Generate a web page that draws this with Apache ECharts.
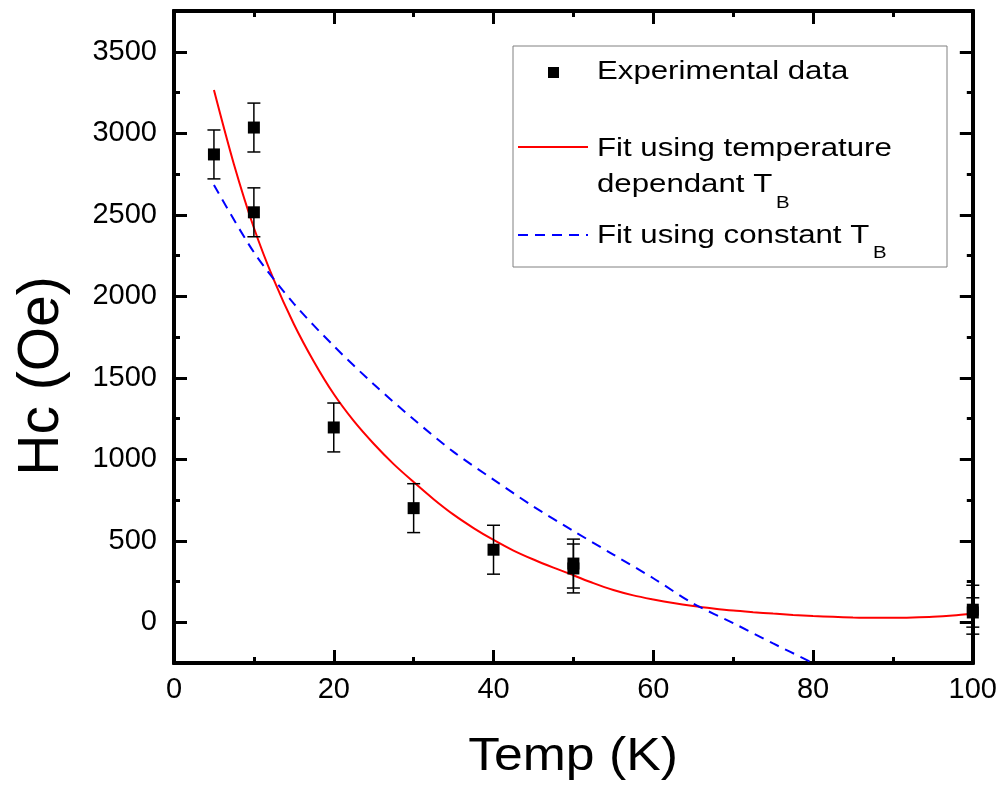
<!DOCTYPE html>
<html>
<head>
<meta charset="utf-8">
<script src="https://cdn.jsdelivr.net/npm/echarts@6/dist/echarts.min.js"></script>
<style>
html,body{margin:0;padding:0;background:#fff;}
#c{width:1000px;height:789px;}
</style>
</head>
<body>
<div id="c"></div>
<script>
// ---- data ----
const expX   = [5, 10, 10, 20, 30, 40, 50, 50, 100, 100];
const expY   = [2870, 3035, 2515, 1195, 700, 445, 360, 330, 77, 60];
const expErr = [150, 150, 150, 150, 150, 150, 150, 150, 150, 90];

const redX = [5, 7.5, 10, 12.5, 15, 17.5, 20, 22.5, 25, 27.5, 30, 32.5, 35, 37.5, 40, 42.5, 45, 47.5, 50,
              52.5, 55, 57.5, 60, 62.5, 65, 67.5, 70, 72.5, 75, 77.5, 80, 82.5, 85, 87.5, 90, 92.5, 95, 97.5, 100];
const redY = [3265, 2810, 2420, 2100, 1830, 1600, 1400, 1235, 1095, 970, 860, 755, 660, 578, 505, 440, 385, 335, 288,
              240, 198, 165, 140, 118, 100, 85, 72, 62, 53, 45, 38, 33, 29, 27, 27, 29, 33, 41, 53];

const blueX = [5, 10, 15, 20, 25, 30, 35, 40, 45, 50, 55, 60, 65, 70, 75, 80];
const blueY = [2683, 2270, 1955, 1695, 1460, 1245, 1045, 875, 710, 560, 415, 270, 115, -5, -130, -250];

const xMajor = [0, 20, 40, 60, 80, 100];
const xMinor = [10, 30, 50, 70, 90];
const yMajor = [0, 500, 1000, 1500, 2000, 2500, 3000, 3500];
const yMinor = [250, 750, 1250, 1750, 2250, 2750, 3250];

// ---- build ----
const FONT = '"Liberation Sans", Arial, sans-serif';
const chart = echarts.init(document.getElementById('c'), null, {renderer: 'canvas'});

function axis(kind, pos, major, ticks, showLabel, len) {
  return {
    type: 'value', position: pos,
    min: kind === 'x' ? 0 : -250, max: kind === 'x' ? 100 : 3750,
    splitLine: {show: false},
    axisLine: {show: true, onZero: false, lineStyle: {color: '#000', width: 4}},
    axisTick: {show: true, inside: true, length: len, customValues: ticks,
               lineStyle: {color: '#000', width: 3}},
    axisLabel: {show: showLabel, customValues: major, color: '#000',
                formatter: v => String(v),
                fontFamily: FONT, fontSize: 29, margin: kind === 'x' ? 12 : 17}
  };
}

const xAxes = [
  axis('x', 'bottom', xMajor, xMajor, true, 13),
  axis('x', 'bottom', xMajor, xMinor, false, 6),
  axis('x', 'top', xMajor, xMajor, false, 13),
  axis('x', 'top', xMajor, xMinor, false, 6)
];
const yAxes = [
  axis('y', 'left', yMajor, yMajor, true, 13),
  axis('y', 'left', yMajor, yMinor, false, 6),
  axis('y', 'right', yMajor, yMajor, false, 13),
  axis('y', 'right', yMajor, yMinor, false, 6)
];

const expData = expX.map((x, i) => [x, expY[i], expErr[i]]);
const redData = redX.map((x, i) => [x, redY[i]]);
const blueData = blueX.map((x, i) => [x, blueY[i]]);

function renderErr(params, api) {
  const x = api.value(0), y = api.value(1), e = api.value(2);
  const p = api.coord([x, y]);
  const hi = api.coord([x, y + e]);
  const lo = api.coord([x, y - e]);
  const cw = 6.5, ms = 6;
  return {
    type: 'group',
    children: [
      {type: 'line', shape: {x1: p[0], y1: hi[1], x2: p[0], y2: lo[1]}, style: {stroke: '#000', lineWidth: 1.5}},
      {type: 'line', shape: {x1: p[0] - cw, y1: hi[1], x2: p[0] + cw, y2: hi[1]}, style: {stroke: '#000', lineWidth: 1.5}},
      {type: 'line', shape: {x1: p[0] - cw, y1: lo[1], x2: p[0] + cw, y2: lo[1]}, style: {stroke: '#000', lineWidth: 1.5}},
      {type: 'rect', shape: {x: p[0] - ms, y: p[1] - ms, width: 2 * ms, height: 2 * ms}, style: {fill: '#000'}}
    ]
  };
}

// legend drawn as graphic elements
const LX = 513, LY = 46;
const legendGraphics = [
  {type: 'rect', shape: {x: LX, y: LY, width: 434, height: 221}, style: {fill: '#fff', stroke: '#808080', lineWidth: 1}, z: 10},
  {type: 'rect', shape: {x: 548, y: 67, width: 11, height: 11}, style: {fill: '#000'}, z: 11},
  {type: 'text', x: 597, y: 72, scaleX: 1.2, style: {text: 'Experimental data', font: '26px ' + FONT, fill: '#000', verticalAlign: 'middle'}, z: 11},
  {type: 'line', shape: {x1: 518, y1: 147, x2: 588, y2: 147}, style: {stroke: '#ff0000', lineWidth: 2}, z: 11},
  {type: 'text', x: 597, y: 149, scaleX: 1.2, style: {text: 'Fit using temperature', font: '26px ' + FONT, fill: '#000', verticalAlign: 'middle'}, z: 11},
  {type: 'text', x: 597, y: 185, scaleX: 1.2, style: {text: 'dependant T', font: '26px ' + FONT, fill: '#000', verticalAlign: 'middle'}, z: 11},
  {type: 'text', x: 776, y: 203, scaleX: 1.2, style: {text: 'B', font: '17px ' + FONT, fill: '#000', verticalAlign: 'middle'}, z: 11},
  {type: 'line', shape: {x1: 518, y1: 235, x2: 588, y2: 235}, style: {stroke: '#0000ff', lineWidth: 2, lineDash: [10, 7]}, z: 11},
  {type: 'text', x: 597, y: 236, scaleX: 1.2, style: {text: 'Fit using constant T', font: '26px ' + FONT, fill: '#000', verticalAlign: 'middle'}, z: 11},
  {type: 'text', x: 873, y: 253, scaleX: 1.2, style: {text: 'B', font: '17px ' + FONT, fill: '#000', verticalAlign: 'middle'}, z: 11},
  // axis titles
  {type: 'text', x: 573, y: 757, scaleX: 1.1, style: {text: 'Temp (K)', font: '47px ' + FONT, fill: '#000', align: 'center', verticalAlign: 'middle'}},
  {type: 'text', x: 42, y: 376, rotation: Math.PI / 2, style: {text: 'Hc (Oe)', font: '57px ' + FONT, fill: '#000', align: 'center', verticalAlign: 'middle'}}
];

const option = {
  animation: false,
  backgroundColor: '#fff',
  grid: {left: 174, right: 25, top: 11, bottom: 126, containLabel: false},
  xAxis: xAxes,
  yAxis: yAxes,
  graphic: legendGraphics,
  series: [
    {type: 'line', name: 'Fit using temperature dependant TB', xAxisIndex: 0, yAxisIndex: 0,
     data: redData, showSymbol: false, smooth: 0.3, lineStyle: {color: '#ff0000', width: 2}, z: 3},
    {type: 'line', name: 'Fit using constant TB', xAxisIndex: 0, yAxisIndex: 0,
     data: blueData, showSymbol: false, smooth: 0.3, lineStyle: {color: '#0000ff', width: 2, type: [10, 7]}, z: 3},
    {type: 'custom', name: 'Experimental data', xAxisIndex: 0, yAxisIndex: 0,
     data: expData, renderItem: renderErr, z: 4}
  ]
};
chart.setOption(option);
</script>
</body>
</html>
